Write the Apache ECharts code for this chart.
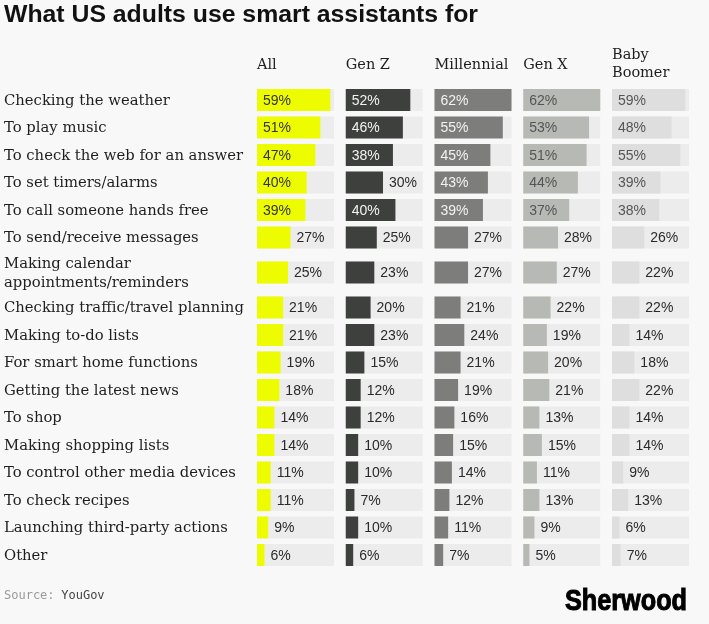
<!DOCTYPE html>
<html>
<head>
<meta charset="utf-8">
<script src="https://cdn.jsdelivr.net/npm/echarts@6/dist/echarts.min.js"></script>
<style>
  html, body { margin: 0; padding: 0; background: #f8f8f8; }
  #main { width: 709px; height: 624px; }
</style>
</head>
<body>
<div id="main"></div>
<script>
(function() {

    // categories, top to bottom
    var categories = [
        'Checking the weather',
        'To play music',
        'To check the web for an answer',
        'To set timers/alarms',
        'To call someone hands free',
        'To send/receive messages',
        'Making calendar\nappointments/reminders',
        'Checking traffic/travel planning',
        'Making to-do lists',
        'For smart home functions',
        'Getting the latest news',
        'To shop',
        'Making shopping lists',
        'To control other media devices',
        'To check recipes',
        'Launching third-party actions',
        'Other'
    ];

    var groups = ['All', 'Gen Z', 'Millennial', 'Gen X', 'Baby\nBoomer'];

    var allAdults  = [59, 51, 47, 40, 39, 27, 25, 21, 21, 19, 18, 14, 14, 11, 11, 9, 6];
    var genZ       = [52, 46, 38, 30, 40, 25, 23, 20, 23, 15, 12, 12, 10, 10, 7, 10, 6];
    var millennial = [62, 55, 45, 43, 39, 27, 27, 21, 24, 21, 19, 16, 15, 14, 12, 11, 7];
    var genX       = [62, 53, 51, 44, 37, 28, 27, 22, 19, 20, 21, 13, 15, 11, 13, 9, 5];
    var boomer     = [59, 48, 55, 39, 38, 26, 22, 22, 14, 18, 22, 14, 14, 9, 13, 6, 7];

    var columns = [allAdults, genZ, millennial, genX, boomer];

    // 样式
    var barColors   = ['#eefc00', '#3e403d', '#7d7e7c', '#b7b9b5', '#dedede'];
    var innerColors = ['#333333', '#f2f2f2', '#f2f2f2', '#555555', '#555555'];
    var trackColor  = '#ececec';
    var scaleMax = 62;
    var insideMin = 35;
    var barHeight = 22;

    // row heights: two-line labels take more room
    var rowCenters = [];
    var total = 0;
    for (var i = 0; i < categories.length; i++) {
        var u = categories[i].indexOf('\n') > -1 ? 1.545 : 1;
        rowCenters.push(total + u / 2);
        total += u;
    }

    var gridTop = 86.25;
    var gridHeight = 27.5 * total;
    var colLeft = 257;
    var colStep = 88.75;
    var colWidth = 77;

    var grids = [], xAxes = [], yAxes = [], series = [];

    // label grid
    grids.push({ left: 4, top: gridTop, width: 240, height: gridHeight });
    xAxes.push({ gridIndex: 0, type: 'value', min: 0, max: 1, show: false });
    yAxes.push({ gridIndex: 0, type: 'value', min: 0, max: total, inverse: true, show: false });
    series.push({
        type: 'custom',
        xAxisIndex: 0,
        yAxisIndex: 0,
        silent: true,
        data: rowCenters.map(function(c) { return [0, c]; }),
        renderItem: function(params, api) {
            var p = api.coord([0, api.value(1)]);
            return {
                type: 'text',
                x: p[0],
                y: p[1] + 1,
                style: {
                    text: categories[params.dataIndex],
                    fill: '#1e1e1e',
                    font: '14.8px "DejaVu Serif"',
                    lineHeight: 19,
                    verticalAlign: 'middle',
                    align: 'left'
                }
            };
        }
    });

    columns.forEach(function(values, c) {
        var g = c + 1;
        grids.push({ left: colLeft + colStep * c, top: gridTop, width: colWidth, height: gridHeight });
        xAxes.push({ gridIndex: g, type: 'value', min: 0, max: scaleMax, show: false });
        yAxes.push({ gridIndex: g, type: 'value', min: 0, max: total, inverse: true, show: false });
        series.push({
            type: 'custom',
            name: groups[c],
            xAxisIndex: g,
            yAxisIndex: g,
            silent: true,
            data: values.map(function(v, i) { return [v, rowCenters[i]]; }),
            renderItem: function(params, api) {
                var v = api.value(0);
                var y = api.value(1);
                var p0 = api.coord([0, y]);
                var p1 = api.coord([v, y]);
                var pMax = api.coord([scaleMax, y]);
                var inside = v >= insideMin;
                return {
                    type: 'group',
                    children: [{
                        type: 'rect',
                        shape: { x: p0[0], y: p0[1] - barHeight / 2, width: pMax[0] - p0[0], height: barHeight },
                        style: { fill: trackColor }
                    }, {
                        type: 'rect',
                        shape: { x: p0[0], y: p0[1] - barHeight / 2, width: p1[0] - p0[0], height: barHeight },
                        style: { fill: barColors[c] }
                    }, {
                        type: 'text',
                        x: inside ? p0[0] + 6 : p1[0] + 6,
                        y: p0[1] + 1,
                        style: {
                            text: v + '%',
                            fill: inside ? innerColors[c] : '#2a2a2a',
                            font: '14px "Liberation Sans", Arial, sans-serif',
                            verticalAlign: 'middle',
                            align: 'left'
                        }
                    }]
                };
            }
        });
    });

    var headers = groups.map(function(name, c) {
        var twoLine = name.indexOf('\n') > -1;
        return {
            type: 'text',
            left: colLeft + colStep * c,
            top: twoLine ? 46 : 56,
            style: {
                text: name,
                fill: '#1e1e1e',
                font: '14.5px "DejaVu Serif"',
                lineHeight: 18
            }
        };
    });

    var myChart = echarts.init(document.getElementById('main'));
    var option = {
        backgroundColor: '#f8f8f8',
        animation: false,
        grid: grids,
        xAxis: xAxes,
        yAxis: yAxes,
        series: series,
        graphic: headers.concat([{
            type: 'text',
            left: 4,
            top: 3,
            style: {
                text: 'What US adults use smart assistants for',
                fill: '#111111',
                font: 'bold 24.8px "Liberation Sans", Arial, sans-serif'
            }
        }, {
            type: 'text',
            left: 4,
            top: 590,
            style: {
                text: '{a|Source:}  {b|YouGov}',
                rich: {
                    a: { fill: '#9a9a9a', font: '12px "DejaVu Sans Mono", monospace' },
                    b: { fill: '#444444', font: '12px "DejaVu Sans Mono", monospace' }
                }
            }
        }, {
            type: 'text',
            x: 565,
            y: 587,
            scaleX: 0.87,
            style: {
                text: 'Sherwood',
                fill: '#000000',
                stroke: '#000000',
                lineWidth: 1,
                font: 'bold 29px "Liberation Sans", Arial, sans-serif'
            }
        }])
    };
    myChart.setOption(option);

})();
</script>
</body>
</html>
